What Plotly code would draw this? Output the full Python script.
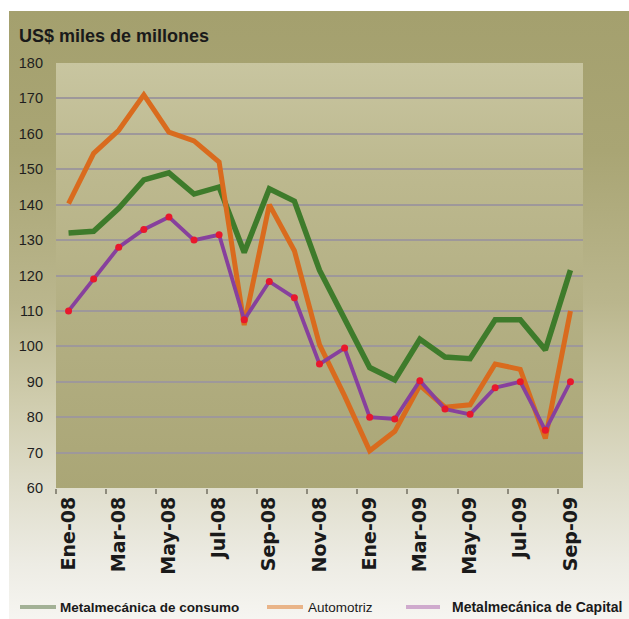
import base64
import plotly.graph_objects as go

W, H = 629, 619

# Monthly categories (Spanish abbreviations)
months = ["Ene-08", "Feb-08", "Mar-08", "Abr-08", "May-08", "Jun-08", "Jul-08",
          "Ago-08", "Sep-08", "Oct-08", "Nov-08", "Dic-08", "Ene-09", "Feb-09",
          "Mar-09", "Abr-09", "May-09", "Jun-09", "Jul-09", "Ago-09", "Sep-09"]

# Series values, US$ miles de millones
consumo = [132, 132.5, 139, 147, 149, 143, 145, 126.5, 144.5, 141, 121.5, 108,
           94, 90.5, 102, 97, 96.5, 107.5, 107.5, 99, 121.5]
automotriz = [140.3, 154.5, 161, 171, 160.5, 158, 152, 106, 140, 127, 100.5, 86,
              70.5, 76, 89, 82.8, 83.5, 95, 93.5, 74, 110]
capital = [110, 119, 128, 133, 136.5, 130, 131.5, 107.5, 118.3, 113.7, 95, 99.5,
           80, 79.5, 90.3, 82.3, 80.8, 88.3, 90, 76.3, 90]

series_names = ["Metalmecánica de consumo", "Automotriz", "Metalmecánica de Capital"]
y_ticks = list(range(60, 181, 10))
x_tick_labels = months[::2]

# Plot-area placement in pixels
PL, PR, PT, PB = 56, 583, 63, 488

# Background panels as an SVG gradient image
svg = f"""<svg xmlns="http://www.w3.org/2000/svg" width="{W}" height="{H}" viewBox="0 0 {W} {H}">
<defs>
<linearGradient id="outer" x1="0" y1="0" x2="0" y2="1">
<stop offset="0" stop-color="#a4a06e"/>
<stop offset="0.23" stop-color="#a9a574"/>
<stop offset="0.48" stop-color="#bab68d"/>
<stop offset="0.64" stop-color="#cfccad"/>
<stop offset="0.78" stop-color="#dfddcb"/>
<stop offset="0.91" stop-color="#edece4"/>
<stop offset="1" stop-color="#f6f5f1"/>
</linearGradient>
<linearGradient id="inner" x1="0" y1="0" x2="0" y2="1">
<stop offset="0" stop-color="#c8c5a0"/>
<stop offset="0.25" stop-color="#bdb98f"/>
<stop offset="0.6" stop-color="#b3af83"/>
<stop offset="1" stop-color="#aaa676"/>
</linearGradient>
</defs>
<rect x="0" y="0" width="{W}" height="{H}" fill="#ffffff"/>
<rect x="9" y="11" width="{W - 9}" height="{H - 11}" fill="url(#outer)"/>
<rect x="{PL}" y="{PT}" width="{PR - PL}" height="{PB - PT}" fill="url(#inner)"/>
</svg>"""
bg_uri = "data:image/svg+xml;base64," + base64.b64encode(svg.encode()).decode()

fig = go.Figure()

fig.add_trace(go.Scatter(x=months, y=consumo, mode="lines", name=series_names[0],
                         line=dict(color="#3e7b2b", width=5.5), showlegend=False))
fig.add_trace(go.Scatter(x=months, y=automotriz, mode="lines", name=series_names[1],
                         line=dict(color="#d96b1e", width=5), showlegend=False))
fig.add_trace(go.Scatter(x=months, y=capital, mode="lines+markers", name=series_names[2],
                         line=dict(color="#87409d", width=3.8),
                         marker=dict(color="#e8182c", size=7), showlegend=False))

# Empty trace so the helper axes (boundary ticks, inner gridlines) are rendered
fig.add_trace(go.Scatter(x=[None], y=[None], xaxis="x2", yaxis="y2",
                         showlegend=False, hoverinfo="skip"))

xdom = [PL / W, PR / W]
ydom = [1 - PB / H, 1 - PT / H]

boundaries = [i - 0.5 for i in range(0, len(months), 2)]
grid_vals = y_ticks[1:-1]

fig.update_layout(
    width=W, height=H,
    margin=dict(l=0, r=0, t=0, b=0, autoexpand=False),
    paper_bgcolor="rgba(0,0,0,0)",
    plot_bgcolor="rgba(0,0,0,0)",
    images=[dict(source=bg_uri, xref="paper", yref="paper", x=0, y=1,
                 sizex=1, sizey=1, sizing="stretch", layer="below")],
    xaxis=dict(domain=xdom, type="category", range=[-0.5, len(months) - 0.5],
               tickmode="array", tickvals=x_tick_labels, ticktext=x_tick_labels,
               tickangle=-90, ticks="", showgrid=False, zeroline=False, showline=False,
               ticklabelstandoff=4, automargin=False,
               tickfont=dict(family="DejaVu Sans", size=19, color="#1a1a1a", weight="bold")),
    xaxis2=dict(overlaying="x", anchor="y", type="linear", automargin=False,
                range=[-0.5, len(months) - 0.5], tickmode="array", tickvals=boundaries,
                ticks="outside", ticklen=5, tickwidth=2, tickcolor="#8e8b7c",
                showticklabels=False, showgrid=False, zeroline=False, showline=False),
    yaxis=dict(domain=ydom, range=[60, 180], tickmode="array", tickvals=y_ticks,
               showgrid=False, zeroline=False, automargin=False,
               showline=False, ticks="", ticklabelstandoff=12,
               tickfont=dict(family="Liberation Sans", size=14.5, color="#1e1e1e")),
    yaxis2=dict(overlaying="y", anchor="x", range=[60, 180], tickmode="array",
                tickvals=grid_vals, showgrid=True, gridcolor="#9e989a", gridwidth=2,
                zeroline=False, showline=False, ticks="", showticklabels=False,
                automargin=False),
)

# Title
fig.add_annotation(text="<b>US$ miles de millones</b>", xref="paper", yref="paper",
                   x=17 / W, y=1 - 36 / H, xanchor="left", yanchor="middle",
                   showarrow=False,
                   font=dict(family="Liberation Sans", size=18, color="#1a1a1a"))

# Legend drawn at the bottom
legend_colors = ["#a3b196", "#e9b488", "#cfaacd"]
legend_samples = [(20, 56), (267, 303), (406, 440)]
legend_text_x = [58, 306, 450]
legend_bold = [True, False, True]
legend_sizes = [13.5, 13.5, 14]
LY = 607
for name, col, (s0, s1), tx, bold, fs in zip(series_names, legend_colors, legend_samples,
                                             legend_text_x, legend_bold, legend_sizes):
    fig.add_shape(type="line", xref="paper", yref="paper",
                  x0=s0 / W, x1=s1 / W, y0=1 - LY / H, y1=1 - LY / H,
                  line=dict(color=col, width=4))
    fig.add_annotation(text=f"<b>{name}</b>" if bold else name, xref="paper", yref="paper",
                       x=tx / W, y=1 - LY / H, xanchor="left", yanchor="middle",
                       showarrow=False,
                       font=dict(family="Liberation Sans", size=fs, color="#1a1a1a"))

fig.write_html("out.html")
